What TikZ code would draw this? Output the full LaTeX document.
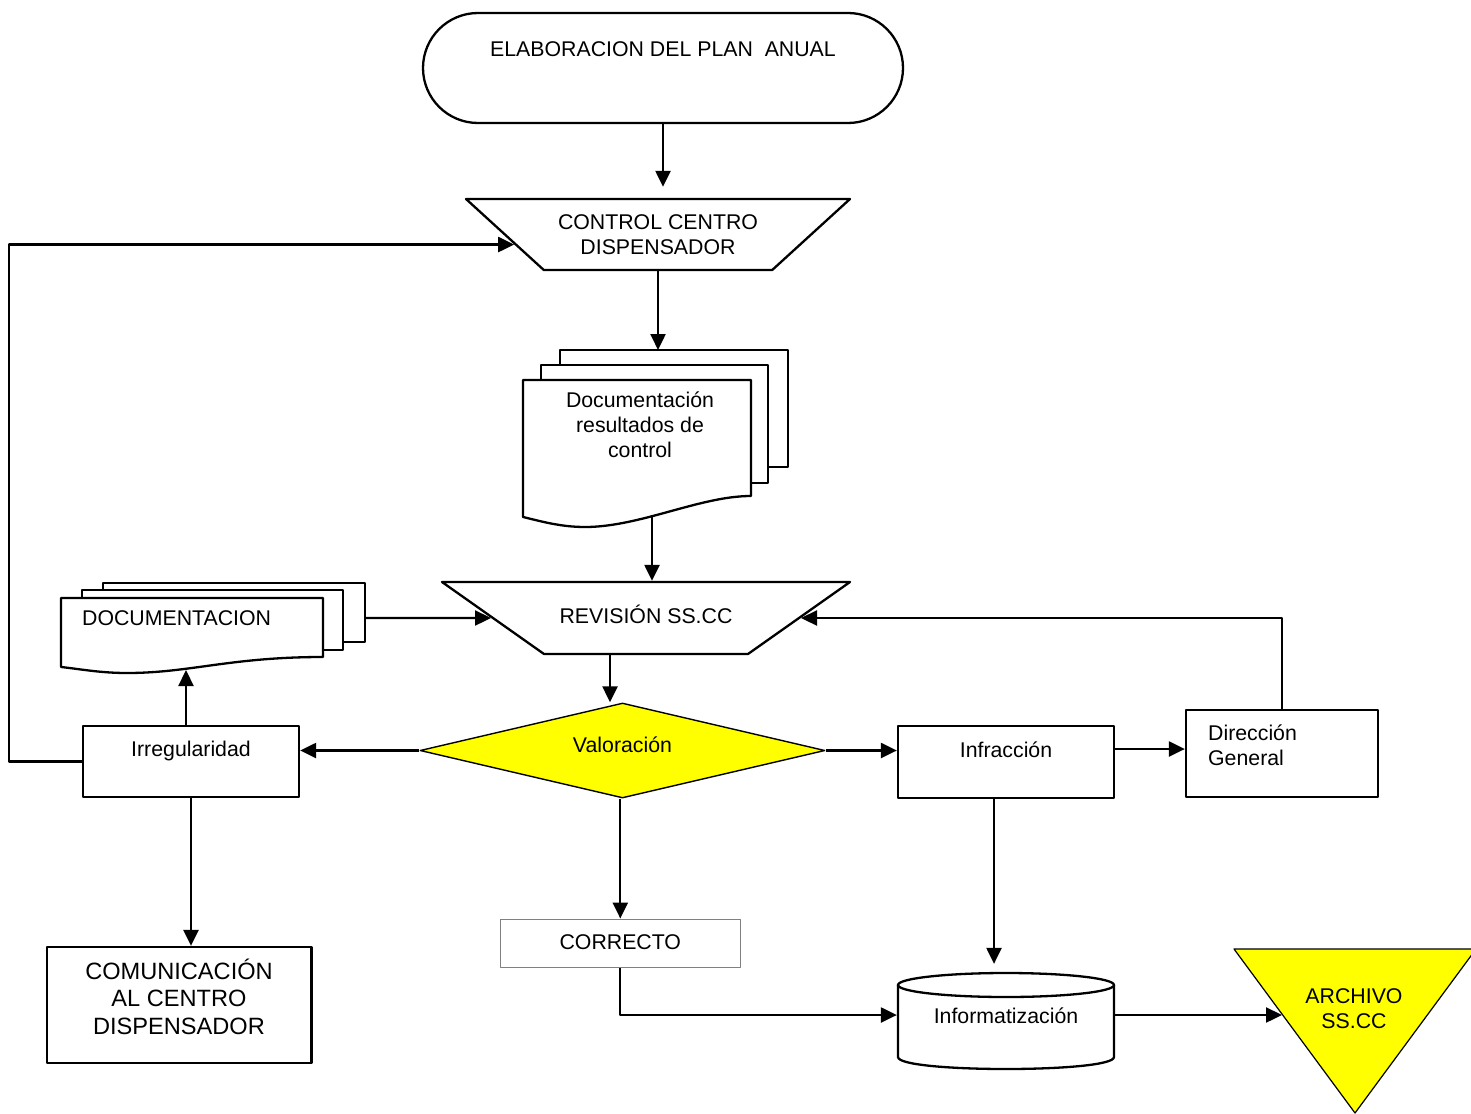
\documentclass[tikz,border=0pt]{standalone}
\usepackage{fontspec}
\setmainfont{Liberation Sans}
\usetikzlibrary{arrows.meta,shapes.geometric,calc}
\definecolor{amarillo}{RGB}{255,255,0}
\definecolor{gris}{RGB}{128,128,128}

\begin{document}
\begin{tikzpicture}[x=0.5pt, y=-0.5pt, line width=1.15pt, line join=round,
	>={Triangle[length=8pt,width=7.5pt]},
	font=\fontsize{10.65}{12.5}\selectfont,
	caja/.style={draw, rectangle, inner sep=0pt, text height=8pt},
	trapecio/.style={draw, trapezium, shape border rotate=180, trapezium stretches body=true, inner sep=0pt, align=center},
	texto/.style={inner sep=0pt, align=center},
	hoja/.style={draw, fill=white}]
	\useasboundingbox[fill=white] (0,0) rectangle (1471,1113);
	
	\node[caja, rounded corners=27.5pt, minimum width=240pt, minimum height=55pt, text depth=19.3pt] (plan) at (663,68) {ELABORACION DEL PLAN\ \ ANUAL};
	\node[trapecio, trapezium left angle=27.26, trapezium right angle=27.26, minimum width=192pt, minimum height=35.5pt] (ctrl) at (658,234.5) {CONTROL CENTRO\\DISPENSADOR};
	\node[trapecio, trapezium left angle=14.3, trapezium right angle=14.3, minimum width=204pt, minimum height=36pt, text height=9pt, text depth=4pt] (rev) at (646,618) {REVISIÓN SS.CC};
	
	% hojas del fondo
	\foreach \xa/\ya/\xb/\yb in {560/350/788/467, 541/365/768/483, 103/583/365/642, 82/590/343/650}
		\draw[hoja] (\xa,\ya) rectangle (\xb,\yb);
	\draw[hoja] (523,380) -- (751,380) -- (751,496) .. controls (700,496) and (640,527) .. (585,527) .. controls (560,527) and (540,521) .. (523,517) -- cycle;
	\draw[hoja] (61,598) -- (323,598) -- (323,657) .. controls (230,657) and (190,673) .. (127,673) .. controls (100,673) and (80,669) .. (61,667) -- cycle;
	\node[texto] (doc1) at (640,425) {Documentación\\resultados de\\control};
	\node[texto, anchor=base west] (doc2) at (81,625) {DOCUMENTACION};
	
	\path (656,350) coordinate (doc1in)
		(652,516) coordinate (doc1out)
		(365,618) coordinate (doc2out)
		(186,670) coordinate (doc2in)
		(1282,1015) coordinate (archin);
	
	% cilindro y triangulo
	\draw[fill=white] (898,985) -- (898,1057) .. controls (898,1073) and (1114,1073) .. (1114,1057) -- (1114,985);
	\draw (1006,985) ellipse [x radius=108, y radius=12];
	\draw[fill=amarillo, line width=0.6pt] (1234,949) -- (1476,949) -- (1355,1113) -- cycle;
	
	\node[draw, diamond, fill=amarillo, aspect=4.26, minimum width=202.5pt, minimum height=47.5pt, inner sep=0pt, line width=0.7pt, text height=8pt, text depth=6.5pt] (val) at (622.5,750.5) {Valoración};
	\node[caja, minimum width=108pt, minimum height=35.5pt, text depth=12.8pt] (irr) at (191,761.5) {Irregularidad};
	\node[caja, minimum width=108pt, minimum height=36pt, text depth=12.3pt] (inf) at (1006,762) {Infracción};
	\node[caja, minimum width=96pt, minimum height=43.5pt] (dir) at (1282,753.5) {};
	\node[texto, align=left, anchor=north west] (dirtxt) at (1207,724) {Dirección\\General};
	\node[caja, draw=gris, line width=0.5pt, minimum width=120.3pt, minimum height=24pt, text depth=2pt] (corr) at (620.3,943) {CORRECTO};
	\node[caja, minimum width=132.3pt, minimum height=58pt] (com) at (179.3,1005) {};
	\node[texto, anchor=north, font=\fontsize{11.8}{13.9}\selectfont] (comtxt) at (179,957.5) {COMUNICACIÓN\\AL CENTRO\\DISPENSADOR};
	\node[texto, minimum width=108pt, minimum height=42pt, text height=8pt, text depth=0pt] (info) at (1006,1015) {Informatización};
	\node[texto] (arch) at (1354,1009) {ARCHIVO\\SS.CC};
	
	\draw[->, shorten >=5.5pt] (plan.south) -- (plan.south |- ctrl.north);
	\draw[->] (ctrl.south) -- (ctrl.south |- doc1in);
	\draw[->] (doc1out) -- (doc1out |- rev.north);
	\draw[->] (doc2out) -- (rev.west);
	\draw[->] ([xshift=-18pt]rev.south) -- ([xshift=-18pt]rev.south |- val.north);
	\draw[->] (val.west) -- (val.west -| irr.east);
	\draw[->] (val.east) -- (val.east -| inf.west);
	\draw[->] (val.south -| corr.north) -- (corr.north);
	\draw[->] ([xshift=-2.5pt]irr.north) -- (doc2in);
	\draw[->] (irr.south) -- (irr.south |- com.north);
	\draw[->] (irr.west) -- ++(-73,0) |- (ctrl.184.7);
	\draw[->] ([yshift=6.5pt]inf.east) -- ([yshift=6.5pt]inf.east -| dir.west);
	\draw[->] (dir.north) |- (rev.east);
	\draw[->, shorten >=4pt] ([xshift=-6pt]inf.south) -- ([xshift=-6pt]inf.south |- info.north);
	\draw[->] (corr.south) |- (info.west);
	\draw[->] (info.east) -- (archin);
\end{tikzpicture}
\end{document}
